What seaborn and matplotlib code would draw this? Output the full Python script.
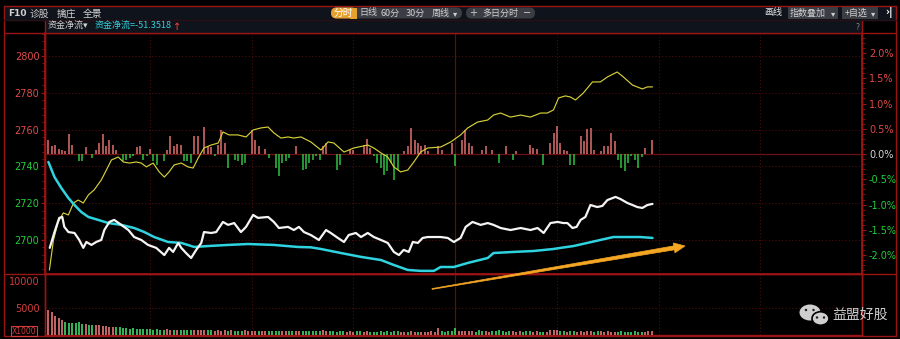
import numpy as np
import pandas as pd
import matplotlib
matplotlib.use('Agg')
import matplotlib.pyplot as plt
import seaborn as sns
from matplotlib.patches import FancyBboxPatch, Ellipse, Rectangle, Polygon
from matplotlib.lines import Line2D
from matplotlib.ticker import MultipleLocator

# ---------------- data (minutes since open, index points) ----------------
white_min = [0.4, 1.8, 3.2, 4.1, 4.7, 5.9, 7.7, 9.1, 10.3, 11.2, 12.7, 14.1, 15.6, 16.5, 18.0, 19.4,
             21.5, 23.6, 25.3, 27.4, 29.4, 31.8, 34.2, 35.6, 36.8, 38.3, 39.2, 40.6, 42.1, 43.6,
             45.1, 45.9, 48.0, 49.5, 51.5, 53.0, 54.8, 56.8, 58.3, 60.4, 61.8, 64.8, 66.5, 68.0,
             70.7, 72.4, 73.9, 75.4, 77.4, 79.8, 81.9, 83.3, 85.4, 87.2, 88.6, 90.7, 92.2, 94.2,
             96.0, 98.1, 100.1, 101.9, 103.4, 104.8, 106.3, 107.5, 109.0, 110.4, 111.9, 113.7,
             115.7, 117.8, 119.6, 121.6, 123.1, 125.1, 127.5, 129.6, 131.3, 133.4, 136.3, 139.3,
             142.2, 144.3, 146.1, 148.1, 150.2, 151.9, 153.1, 154.6, 155.8, 157.0, 158.4, 159.9,
             161.9, 163.4, 164.9, 167.3, 168.7, 170.8, 172.3, 173.7, 175.2, 176.7, 178.2]
white_val = [2695.7, 2704.3, 2712.0, 2712.5, 2707.1, 2704.3, 2703.8, 2700.0, 2695.7, 2698.9, 2697.3,
             2698.9, 2700.0, 2705.4, 2709.8, 2710.9, 2708.2, 2705.4, 2701.6, 2700.0, 2697.3, 2695.7,
             2691.8, 2695.7, 2693.5, 2698.4, 2695.7, 2692.9, 2690.2, 2694.6, 2698.4, 2704.3, 2703.8,
             2704.3, 2709.8, 2708.2, 2709.2, 2704.3, 2707.1, 2713.6, 2712.0, 2712.5, 2709.8, 2706.5,
             2707.1, 2705.4, 2707.1, 2704.3, 2702.7, 2700.0, 2705.4, 2703.8, 2701.1, 2698.9, 2702.7,
             2703.8, 2701.6, 2703.8, 2701.6, 2700.0, 2698.4, 2693.5, 2691.8, 2694.6, 2693.5, 2698.9,
             2698.4, 2701.1, 2701.6, 2701.6, 2701.6, 2701.1, 2698.9, 2701.1, 2707.1, 2709.8, 2708.2,
             2709.2, 2708.2, 2706.5, 2705.4, 2706.5, 2705.4, 2706.5, 2703.8, 2709.2, 2709.8, 2709.2,
             2709.2, 2706.5, 2707.1, 2710.9, 2712.5, 2719.0, 2717.9, 2718.5, 2721.7, 2723.4, 2722.3,
             2720.1, 2719.0, 2717.9, 2717.4, 2719.0, 2719.6]

cyan_min = [0.0, 1.8, 3.8, 5.9, 7.7, 9.7, 11.8, 14.7, 17.7, 21.5, 25.3, 28.3, 31.2, 35.3, 39.2, 43.0,
            47.1, 53.0, 58.9, 66.5, 73.6, 77.4, 80.4, 86.3, 92.2, 98.1, 101.9, 106.0, 109.8, 113.7,
            115.7, 119.6, 123.7, 129.6, 131.3, 137.2, 143.1, 149.0, 151.1, 154.9, 159.0, 162.8,
            166.7, 170.8, 174.6, 178.2]
cyan_val = [2742.4, 2734.2, 2728.3, 2722.8, 2719.0, 2715.2, 2712.5, 2710.9, 2709.2, 2708.2, 2706.5,
            2704.3, 2701.6, 2698.9, 2698.4, 2696.2, 2696.7, 2697.3, 2697.8, 2697.3, 2696.2, 2696.0,
            2695.1, 2692.9, 2690.8, 2689.1, 2686.4, 2683.7, 2683.2, 2683.2, 2685.3, 2685.3, 2687.5,
            2690.2, 2692.9, 2693.5, 2694.0, 2695.1, 2695.7, 2696.7, 2698.4, 2700.0, 2701.6, 2701.6,
            2701.6, 2701.1]

yellow_min = [0.3, 1.5, 2.9, 4.4, 5.9, 7.4, 8.8, 10.3, 11.8, 13.5, 15.6, 17.1, 18.6, 20.6, 22.1, 23.9,
              25.9, 27.4, 28.9, 30.9, 32.7, 34.2, 35.6, 37.1, 39.2, 41.2, 42.7, 44.2, 45.9, 48.0,
              50.1, 51.5, 53.3, 55.9, 58.3, 60.4, 62.7, 64.8, 66.5, 68.6, 70.7, 72.4, 74.5, 77.4,
              80.4, 82.5, 84.2, 87.2, 90.1, 94.2, 96.0, 98.1, 100.1, 101.9, 103.9, 106.0, 107.8,
              109.8, 111.9, 115.7, 118.7, 121.6, 123.7, 126.6, 129.6, 131.3, 133.4, 136.3, 139.3,
              142.2, 145.2, 147.2, 149.0, 150.5, 152.5, 154.0, 155.5, 157.8, 160.5, 162.8, 164.9,
              167.8, 169.6, 172.3, 175.2, 176.7, 178.2]
yellow_val = [2683.7, 2700.0, 2709.8, 2714.7, 2713.6, 2720.1, 2721.7, 2720.1, 2724.5, 2727.2, 2732.6,
              2738.0, 2743.5, 2745.1, 2742.4, 2741.8, 2742.4, 2741.8, 2739.7, 2741.8, 2737.0, 2734.2,
              2737.0, 2740.8, 2741.8, 2739.7, 2739.1, 2744.6, 2750.0, 2751.6, 2752.7, 2758.7, 2757.1,
              2757.1, 2756.0, 2759.8, 2760.9, 2761.4, 2758.2, 2755.4, 2756.0, 2755.4, 2756.0, 2753.3,
              2748.9, 2753.3, 2752.7, 2747.8, 2750.0, 2751.6, 2750.0, 2747.3, 2745.1, 2739.7, 2737.0,
              2738.0, 2742.4, 2747.8, 2750.0, 2750.5, 2753.3, 2757.1, 2760.9, 2764.1, 2765.2, 2767.9,
              2769.0, 2766.8, 2767.9, 2766.8, 2769.0, 2769.0, 2770.7, 2777.2, 2778.3, 2777.7, 2776.1,
              2779.9, 2785.9, 2785.9, 2788.6, 2791.3, 2788.6, 2784.2, 2782.1, 2783.2, 2783.2]

# capital-flow bars (positive = inflow red, negative = outflow green)
flow_min = [0, 1, 2, 3, 4, 5, 6, 7, 9, 10, 11, 13, 14, 15, 16, 17, 18, 19, 20, 22, 23, 24, 25, 26, 27,
            28, 29, 30, 31, 32, 34, 35, 36, 37, 38, 39, 40, 41, 42, 43, 44, 46, 47, 48, 49, 50, 51,
            52, 53, 55, 56, 57, 58, 60, 61, 62, 64, 65, 67, 68, 69, 70, 71, 73, 75, 76, 77, 78, 79,
            80, 81, 82, 85, 86, 89, 90, 93, 94, 95, 96, 97, 98, 99, 100, 101, 102, 103, 105, 106,
            107, 108, 109, 110, 111, 112, 115, 116, 119, 120, 122, 123, 124, 125, 128, 129, 131,
            133, 135, 137, 138, 142, 143, 144, 146, 148, 149, 150, 151, 152, 153, 154, 155, 157,
            158, 159, 160, 161, 163, 164, 165, 166, 167, 168, 169, 170, 171, 172, 173, 174, 175,
            176, 178]
flow_val = [14, 8, 9, 5, 4, 3, 20, 9, -7, -7, 7, -4, 4, 11, 20, 8, 14, 9, 4, -7, -6, -4, -2, 7, 8,
            -6, -2, 5, -7, -11, -7, 4, 18, 8, 10, 9, -7, -7, -9, 18, 18, 27, 8, 7, -2, 9, 24,
            11, -14, -6, -7, -11, -9, 24, 14, 8, 5, -4, -14, -22, -9, -7, -4, 8, -16, -15, -9, -6, -2,
            -6, 8, 11, -16, -11, 4, 4, 9, 15, 6, -2, -9, -14, -21, -17, -9, -26, -16, 3, 8,
            26, 14, 11, 8, 9, 3, 8, 4, 11, -12, 14, 24, 11, 8, 4, 8, 4,
            -9, 8, -6, 3, 9, 6, 5, -11, 11, 21, 28, 11, 4, 3, -11, -11, 18,
            13, 25, 26, 4, 3, 8, 8, 21, 13, -6, -14, -17, -9, -2, -6, -14, -3,
            6, 14]

# volume per minute (x1000)
vol = [4700, 4200, 3600, 3100, 2800, 2500, 2300, 2200, 2300, 2400,
       2100, 2000, 1900, 1900, 1800, 1800, 1700, 1600, 1500, 1500,
       1400, 1400, 1300, 1300, 1200, 1300, 1200, 1100, 1200, 1100,
       1100, 1000, 1100, 1000, 1000, 1100, 1000, 950, 1000, 900,
       950, 900, 1000, 900, 850, 900, 950, 850, 900, 800,
       850, 800, 900, 800, 850, 800, 750, 800, 850, 750,
       800, 750, 800, 700, 750, 800, 700, 750, 700, 800,
       700, 750, 700, 650, 700, 750, 700, 650, 700, 650,
       700, 900, 700, 650, 700, 600, 650, 700, 600, 650,
       600, 650, 700, 600, 650, 600, 550, 600, 650, 600,
       650, 600, 700, 650, 600, 550, 600, 650, 600, 550,
       600, 550, 600, 650, 600, 1300, 700, 600, 650, 700,
       1250, 700, 650, 800, 700, 650, 600, 900, 650, 700,
       600, 650, 700, 1000, 650, 600, 700, 650, 600, 650,
       600, 650, 700, 600, 650, 600, 550, 600, 900, 850,
       950, 800, 650, 600, 650, 700, 600, 650, 600, 700,
       650, 600, 650, 700, 600, 650, 600, 550, 600, 650,
       600, 550, 600, 650, 600, 550, 600, 650, 700]

price_ticks = [2700, 2720, 2740, 2760, 2780, 2800]
pct_ticks = [-2.0, -1.5, -1.0, -0.5, 0.0, 0.5, 1.0, 1.5, 2.0]
vol_ticks = [5000, 10000]
PREV_CLOSE = 2746.7

# ---------------- style ----------------
sns.set_theme(style='dark')
plt.rcParams['font.family'] = ['DejaVu Sans', 'Noto Sans CJK SC']
CJK = ['Noto Sans CJK SC', 'DejaVu Sans']

W, H = 900, 339
RED = '#e04a4a'
GREEN = '#22cc3a'
FRAME = '#9a1414'
GRID = '#4e0c0c'

fig = plt.figure(figsize=(W / 100, H / 100), dpi=100, facecolor='black')


def frac(x0, y0, x1, y1):
    return [x0 / W, 1 - y1 / H, (x1 - x0) / W, (y1 - y0) / H]


LO, HI = 2681.5, 2812.5
ax = fig.add_axes(frac(45, 33, 862, 274))
ax.set_facecolor('black')
ax.set_xlim(-1, 240)
ax.set_ylim(LO, HI)

for v in price_ticks:
    ax.axhline(v, color=GRID, lw=0.8, ls=(0, (1, 2)), zorder=0)
ax.axhline(PREV_CLOSE, color='#6e1010', lw=0.9, zorder=0)
for m in [30, 60, 90, 150, 180, 210]:
    ax.axvline(m, color=GRID, lw=0.8, ls=(0, (1, 2)), zorder=0)
ax.axvline(120, color='#5e0e0e', lw=0.9, zorder=0)

# flow bars (1 unit = 1 px)
flow_scale = (HI - LO) / 241.0
fv = np.array(flow_val, dtype=float)
ax.vlines(flow_min, PREV_CLOSE, PREV_CLOSE + fv * flow_scale,
          colors=['#e07070' if v > 0 else '#2ec244' for v in fv], lw=1.1, zorder=2)

sns.lineplot(x=yellow_min, y=yellow_val, ax=ax, color='#d4cf3a', lw=0.85, zorder=4)
sns.lineplot(x=cyan_min, y=cyan_val, ax=ax, color='#2fd3e0', lw=1.8, zorder=5)
sns.lineplot(x=white_min, y=white_val, ax=ax, color='#f4f4f4', lw=1.6, zorder=6)

ax.set_xticks([])
ax.set_yticks(price_ticks)
ax.set_yticklabels([str(v) for v in price_ticks], fontsize=7)
for lab, v in zip(ax.get_yticklabels(), price_ticks):
    lab.set_color(RED if v > PREV_CLOSE else GREEN)
ax.yaxis.set_minor_locator(MultipleLocator(4))
ax.tick_params(axis='y', which='major', direction='out', length=3, width=0.8, color=FRAME, pad=1)
ax.tick_params(axis='y', which='minor', direction='out', length=2, width=0.6, color=FRAME)
ax.set_xlabel('')
ax.set_ylabel('')
for s in ax.spines.values():
    s.set_color(FRAME)
    s.set_linewidth(1)

axp = ax.twinx()
axp.set_ylim((LO - PREV_CLOSE) / PREV_CLOSE * 100, (HI - PREV_CLOSE) / PREV_CLOSE * 100)
axp.set_yticks(pct_ticks)
axp.set_yticklabels([f'{v:.1f}%' for v in pct_ticks], fontsize=7)
for lab, v in zip(axp.get_yticklabels(), pct_ticks):
    lab.set_color(RED if v > 0 else (GREEN if v < 0 else '#d8d8d8'))
axp.yaxis.set_minor_locator(MultipleLocator(0.1))
axp.tick_params(axis='y', which='major', direction='out', length=3, width=0.8, color=FRAME, pad=2)
axp.tick_params(axis='y', which='minor', direction='out', length=2, width=0.6, color=FRAME)
axp.grid(False)
ax.grid(False)
for s in axp.spines.values():
    s.set_color(FRAME)

# volume panel
axv = fig.add_axes(frac(45, 274, 862, 335))
axv.set_facecolor('black')
axv.set_xlim(-1, 240)
axv.set_ylim(0, 11300)
minutes = np.arange(len(vol))
wi = np.interp(minutes, white_min, white_val)
up = np.r_[True, np.diff(wi) >= 0]
axv.vlines(minutes, 0, vol, colors=['#e87878' if u else '#3fd66a' for u in up], lw=1.2, zorder=3)
axv.axhline(5000, color=GRID, lw=0.8, ls=(0, (1, 2)), zorder=0)
for m in [30, 60, 90, 150, 180, 210]:
    axv.axvline(m, color=GRID, lw=0.8, ls=(0, (1, 2)), zorder=0)
axv.axvline(120, color='#5e0e0e', lw=0.9, zorder=0)
axv.set_xticks([])
axv.set_yticks(vol_ticks)
axv.set_yticklabels([str(v) for v in vol_ticks], fontsize=7, color='#d23c3c')
axv.yaxis.set_minor_locator(MultipleLocator(1000))
axv.tick_params(axis='y', which='major', direction='out', length=3, width=0.8, color=FRAME, pad=1)
axv.tick_params(axis='y', which='minor', direction='out', length=2, width=0.6, color=FRAME)
axv.grid(False)
for s in axv.spines.values():
    s.set_color(FRAME)
    s.set_linewidth(1)

# ---------------- overlay for chrome ----------------
ov = fig.add_axes([0, 0, 1, 1], zorder=10)
ov.set_xlim(0, W)
ov.set_ylim(H, 0)
ov.axis('off')
ov.patch.set_alpha(0)

ov.add_patch(Rectangle((4, 6), 892, 14, color='#0f131b', zorder=0))
ov.add_patch(Rectangle((45, 20), 817, 13, color='#0f131b', zorder=0))
for (x0, y0, x1, y1) in [(4, 6, 896, 6), (4, 6, 4, 336), (896, 6, 896, 336), (4, 336, 896, 336),
                          (4, 33, 896, 33), (4, 274, 896, 274), (45, 20, 45, 336),
                          (862, 20, 862, 336)]:
    ov.add_line(Line2D([x0, x1], [y0, y1], color=FRAME, lw=1, zorder=1))
ov.add_line(Line2D([4, 896], [20, 20], color='#2a1014', lw=1, zorder=1))

TXT = '#cfcfcf'
ov.text(8, 13.5, 'F10', fontsize=6.5, color=TXT, va='center', fontweight='bold')
for x, s in [(30, '诊股'), (57, '擒庄'), (83, '全景')]:
    ov.text(x, 13.5, s, fontsize=7, color=TXT, va='center', family=CJK)

ov.add_patch(FancyBboxPatch((331, 7.5), 131, 11, boxstyle='round,pad=0,rounding_size=5.5',
                            fc='#3a3d44', ec='none', zorder=2))
ov.add_patch(FancyBboxPatch((331, 7.5), 26, 11, boxstyle='round,pad=0,rounding_size=5.5',
                            fc='#e8a02c', ec='none', zorder=3))
ov.add_patch(Rectangle((350, 7.5), 7, 11, fc='#e8a02c', ec='none', zorder=3))
ov.text(343, 13, '分时', fontsize=7, color='white', ha='center', va='center', family=CJK, zorder=4)
for x, s in [(368, '日线'), (390, '60分'), (415, '30分'), (441, '周线')]:
    ov.text(x, 13, s, fontsize=6.5, color=TXT, ha='center', va='center', family=CJK, zorder=4)
ov.text(455, 13.5, '▾', fontsize=6, color=TXT, ha='center', va='center', family=['DejaVu Sans'], zorder=4)

ov.add_patch(FancyBboxPatch((466, 7.5), 69, 11, boxstyle='round,pad=0,rounding_size=5.5',
                            fc='#3a3d44', ec='none', zorder=2))
ov.text(473, 13, '+', fontsize=7, color=TXT, ha='center', va='center', zorder=4)
ov.text(500, 13, '多日分时', fontsize=6.5, color=TXT, ha='center', va='center', family=CJK, zorder=4)
ov.text(527, 13, '−', fontsize=7, color=TXT, ha='center', va='center', zorder=4)

ov.text(773, 13, '画线', fontsize=6.5, color='#e6e6e6', ha='center', va='center', family=CJK)
ov.add_patch(Rectangle((788, 7), 50, 12, fc='#3a3d44', ec='none', zorder=2))
ov.text(808, 13, '指数叠加', fontsize=6.5, color=TXT, ha='center', va='center', family=CJK, zorder=4)
ov.text(833, 13.5, '▾', fontsize=6, color=TXT, ha='center', va='center', family=['DejaVu Sans'], zorder=4)
ov.add_patch(Rectangle((842, 7), 36, 12, fc='#3a3d44', ec='none', zorder=2))
ov.text(856, 13, '+自选', fontsize=6.5, color=TXT, ha='center', va='center', family=CJK, zorder=4)
ov.text(873, 13.5, '▾', fontsize=6, color=TXT, ha='center', va='center', family=['DejaVu Sans'], zorder=4)
ov.text(889, 13, '›|', fontsize=7, color='white', ha='center', va='center', fontweight='bold')

ov.text(48, 26.5, '资金净流▾', fontsize=6.5, color='#d0d0d0', va='center', family=CJK)
ov.text(95, 26.5, '资金净流=-51.3518', fontsize=6.5, color='#2fd3e0', va='center', family=CJK)
ov.text(177, 26.5, '↑', fontsize=7, color='#ff4040', va='center', ha='center', family=['DejaVu Sans'])
ov.text(857, 27, '?', fontsize=5.5, color='#8a8a8a', va='center', ha='center')

ov.text(24, 331, 'X1000', fontsize=5.5, color='#d23c3c', ha='center', va='center',
        bbox=dict(boxstyle='square,pad=0.1', fc='none', ec='#d23c3c', lw=0.8))

# orange trend arrow (annotation, drawn in pixel space: thin tail widening to a head)
tail = np.array([432.0, 289.0])
tip = np.array([685.0, 246.0])
d = tip - tail
L = np.hypot(*d)
u = d / L
n = np.array([-u[1], u[0]])
head_len, head_half, body_half = 11.0, 5.0, 2.0
base = tip - u * head_len
arrow_pts = [tail + n * 0.4, base + n * body_half, base + n * head_half, tip,
             base - n * head_half, base - n * body_half, tail - n * 0.4]
ov.add_patch(Polygon(arrow_pts, closed=True, fc='#f5a623', ec='#f5a623', lw=0.5, zorder=8))

# watermark
ov.add_patch(Ellipse((810, 312.5), 21, 16, fc='#cfcfcf', ec='none', zorder=5))
ov.add_patch(Ellipse((820.5, 318.5), 17, 13.5, fc='#cfcfcf', ec='#000000', lw=1.2, zorder=6))
for (cx, cy, z) in [(806, 310, 7), (813.5, 310, 7), (817, 317.5, 8), (824, 317.5, 8)]:
    ov.add_patch(Ellipse((cx, cy), 2.4, 2.4, fc='#1a1a1a', ec='none', zorder=z))
ov.text(832, 315, '益盟好股', fontsize=10, color='#cfcfcf', va='center', family=CJK)

fig.savefig('out.png', dpi=100, facecolor='black')
